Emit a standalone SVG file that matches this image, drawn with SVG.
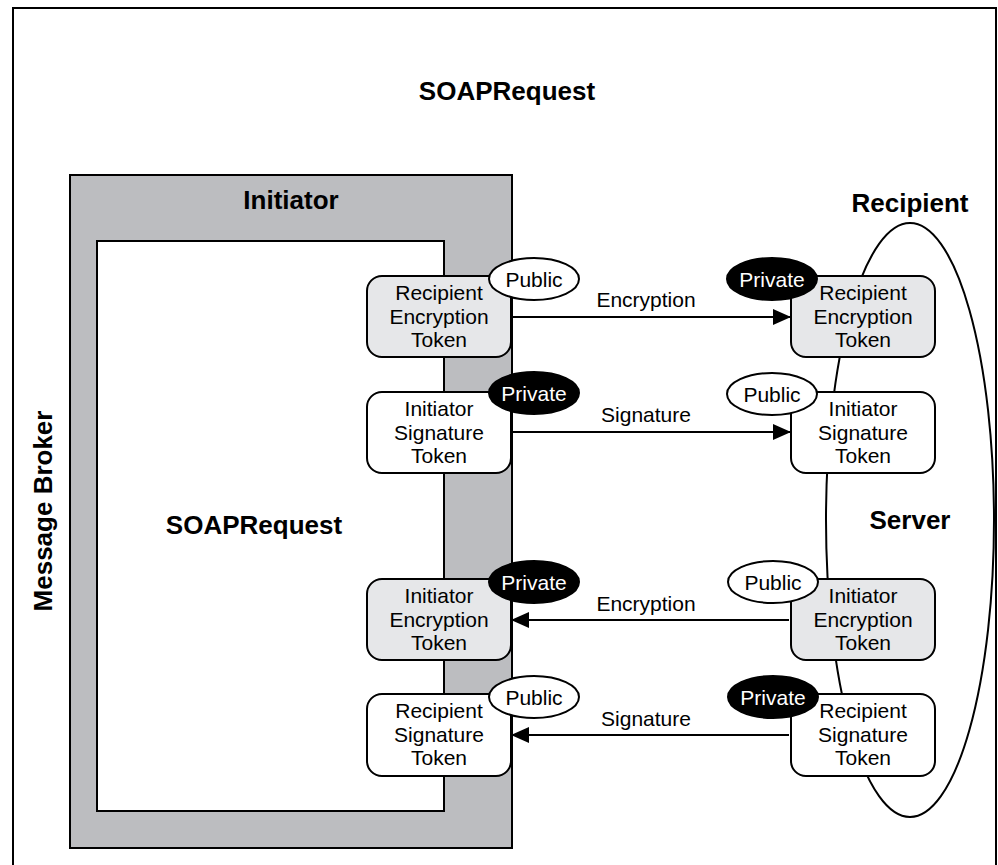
<svg xmlns="http://www.w3.org/2000/svg" width="998" height="865" viewBox="0 0 998 865">
<defs>
<style>
.frame{fill:#ffffff;stroke:#000;stroke-width:2}
.tb{font-family:"Liberation Sans",Arial,sans-serif;font-weight:bold;font-size:26px;fill:#000;text-anchor:middle}
.t{font-family:"Liberation Sans",Arial,sans-serif;font-size:21px;fill:#000;text-anchor:middle}
.tw{font-family:"Liberation Sans",Arial,sans-serif;font-size:21px;fill:#fff;text-anchor:middle}
.box{stroke:#000;stroke-width:2}
.g{fill:#e6e7e9}
.w{fill:#fff}
.pub{fill:#fff;stroke:#000;stroke-width:2}
.priv{fill:#000;stroke:#000;stroke-width:2}
.conn{stroke:#000;stroke-width:2;fill:none}
</style>
<marker id="ah" viewBox="0 0 18 16" refX="18" refY="8" markerWidth="18" markerHeight="16" markerUnits="userSpaceOnUse" orient="auto">
<path d="M0,0 L18,8 L0,16 Z" fill="#000"/>
</marker>
</defs>
<rect x="0" y="0" width="998" height="865" fill="#fff"/>
<g id="message-broker">
<rect class="frame" x="13" y="8" width="983" height="880"/>
<text class="tb" x="507" y="100">SOAPRequest</text>
<text class="tb" transform="translate(52,511) rotate(-90)">Message Broker</text>
</g>
<g id="initiator">
<rect x="70" y="175" width="442" height="673" fill="#bcbdc0" stroke="#000" stroke-width="2"/>
<rect x="97" y="241" width="347" height="570" fill="#fff" stroke="#000" stroke-width="2"/>
<text class="tb" x="291" y="209">Initiator</text>
<text class="tb" x="254" y="534">SOAPRequest</text>
</g>
<g id="recipient">
<ellipse cx="910" cy="520" rx="84" ry="297" fill="none" stroke="#000" stroke-width="2"/>
<text class="tb" x="910" y="212">Recipient</text>
<text class="tb" x="910" y="529">Server</text>
</g>
<g id="connectors">
<line class="conn" x1="511" y1="317" x2="791" y2="317" marker-end="url(#ah)"/>
<line class="conn" x1="511" y1="432" x2="791" y2="432" marker-end="url(#ah)"/>
<line class="conn" x1="789" y1="620" x2="511" y2="620" marker-end="url(#ah)"/>
<line class="conn" x1="789" y1="735" x2="511" y2="735" marker-end="url(#ah)"/>
<text class="t" x="646" y="307">Encryption</text>
<text class="t" x="646" y="422">Signature</text>
<text class="t" x="646" y="611">Encryption</text>
<text class="t" x="646" y="726">Signature</text>
</g>
<g id="init-recipient-enc-token">
<rect class="box g" x="367" y="276" width="144" height="81" rx="15"/>
<text class="t" x="439" y="300">Recipient</text>
<text class="t" x="439" y="323.5">Encryption</text>
<text class="t" x="439" y="347">Token</text>
<ellipse class="pub" cx="534" cy="279" rx="45" ry="21"/>
<text class="t" x="534" y="286.5">Public</text>
</g>
<g id="init-initiator-sig-token">
<rect class="box w" x="367" y="392" width="144" height="81" rx="15"/>
<text class="t" x="439" y="416">Initiator</text>
<text class="t" x="439" y="439.5">Signature</text>
<text class="t" x="439" y="463">Token</text>
<ellipse class="priv" cx="534" cy="393" rx="45" ry="21"/>
<text class="tw" x="534" y="400.5">Private</text>
</g>
<g id="init-initiator-enc-token">
<rect class="box g" x="367" y="579" width="144" height="81" rx="15"/>
<text class="t" x="439" y="603">Initiator</text>
<text class="t" x="439" y="626.5">Encryption</text>
<text class="t" x="439" y="650">Token</text>
<ellipse class="priv" cx="534" cy="582" rx="45" ry="21"/>
<text class="tw" x="534" y="589.5">Private</text>
</g>
<g id="init-recipient-sig-token">
<rect class="box w" x="367" y="694" width="144" height="82" rx="15"/>
<text class="t" x="439" y="718">Recipient</text>
<text class="t" x="439" y="741.5">Signature</text>
<text class="t" x="439" y="765">Token</text>
<ellipse class="pub" cx="534" cy="697" rx="45" ry="21"/>
<text class="t" x="534" y="704.5">Public</text>
</g>
<g id="rcpt-recipient-enc-token">
<rect class="box g" x="791" y="276" width="144" height="81" rx="15"/>
<text class="t" x="863" y="300">Recipient</text>
<text class="t" x="863" y="323.5">Encryption</text>
<text class="t" x="863" y="347">Token</text>
<ellipse class="priv" cx="772" cy="279" rx="45" ry="21"/>
<text class="tw" x="772" y="286.5">Private</text>
</g>
<g id="rcpt-initiator-sig-token">
<rect class="box w" x="791" y="392" width="144" height="81" rx="15"/>
<text class="t" x="863" y="416">Initiator</text>
<text class="t" x="863" y="439.5">Signature</text>
<text class="t" x="863" y="463">Token</text>
<ellipse class="pub" cx="772" cy="394" rx="45" ry="21"/>
<text class="t" x="772" y="401.5">Public</text>
</g>
<g id="rcpt-initiator-enc-token">
<rect class="box g" x="791" y="579" width="144" height="81" rx="15"/>
<text class="t" x="863" y="603">Initiator</text>
<text class="t" x="863" y="626.5">Encryption</text>
<text class="t" x="863" y="650">Token</text>
<ellipse class="pub" cx="773" cy="582" rx="45" ry="21"/>
<text class="t" x="773" y="589.5">Public</text>
</g>
<g id="rcpt-recipient-sig-token">
<rect class="box w" x="791" y="694" width="144" height="82" rx="15"/>
<text class="t" x="863" y="718">Recipient</text>
<text class="t" x="863" y="741.5">Signature</text>
<text class="t" x="863" y="765">Token</text>
<ellipse class="priv" cx="773" cy="697" rx="45" ry="21"/>
<text class="tw" x="773" y="704.5">Private</text>
</g>
</svg>
